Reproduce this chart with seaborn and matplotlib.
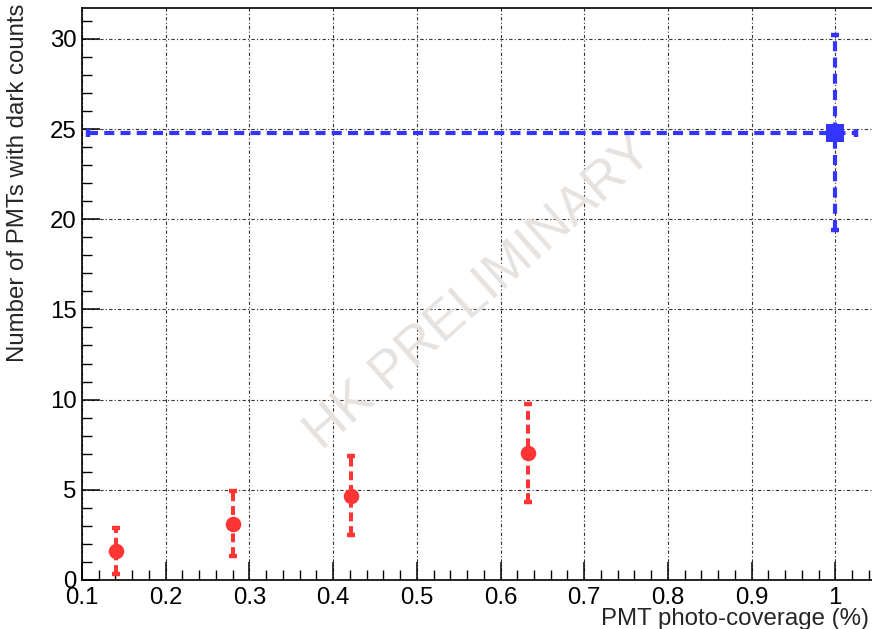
import matplotlib
matplotlib.use("Agg")
import matplotlib.pyplot as plt
from matplotlib.ticker import MultipleLocator, FixedLocator
import seaborn as sns
import pandas as pd

# Dark-count study: photo-coverage vs. number of PMTs with dark counts
coverage_red = [0.141, 0.281, 0.4216, 0.633]
counts_red = [1.61, 3.12, 4.67, 7.02]
err_red = [1.27, 1.81, 2.19, 2.72]

coverage_blue = [1.0]
counts_blue = [24.8]
err_blue_y = [5.4]
err_blue_x_lo = [0.893]
err_blue_x_hi = [0.025]

x_ticks = [0.1, 0.2, 0.3, 0.4, 0.5, 0.6, 0.7, 0.8, 0.9, 1.0]
x_tick_labels = ["0.1", "0.2", "0.3", "0.4", "0.5", "0.6", "0.7", "0.8", "0.9", "1"]
y_ticks = [0, 5, 10, 15, 20, 25, 30]

RED = "#ff3434"
BLUE = "#3434ff"
FS = 17.3

sns.set_theme(style="white")
plt.rcParams["font.family"] = ["Liberation Sans", "DejaVu Sans"]

W, H = 872, 629
fig = plt.figure(figsize=(W / 100, H / 100), dpi=100)
ax_l, ax_r, ax_b, ax_t = 82, 876, 580, 8
ax = fig.add_axes([ax_l / W, (H - ax_b) / H, (ax_r - ax_l) / W, (ax_b - ax_t) / H])

px_per_x = 837.0  # pixels per unit on x
x_max = 0.1 + (ax_r - ax_l) / px_per_x
y_max = (ax_b - ax_t) / 18.04
ax.set_xlim(0.1, x_max)
ax.set_ylim(0, y_max)

# grid
ax.set_axisbelow(True)
ax.grid(True, which="major", color="#333333", linestyle=(0, (3, 2, 1, 2)), linewidth=0.8)

# red series
df_red = pd.DataFrame({"coverage": coverage_red, "count": counts_red, "err": err_red})
eb = ax.errorbar(df_red["coverage"], df_red["count"], yerr=df_red["err"], fmt="none",
                 ecolor=RED, elinewidth=2.9, capsize=2.8, capthick=3.2, zorder=3)
for c in eb[2]:
    c.set_linestyle((0, (2.2, 1.2)))
sns.scatterplot(data=df_red, x="coverage", y="count", ax=ax, color=RED, marker="o",
                s=125, edgecolor=RED, linewidth=0, zorder=4, legend=False)

# blue series
df_blue = pd.DataFrame({"coverage": coverage_blue, "count": counts_blue})
eb2 = ax.errorbar(coverage_blue, counts_blue, yerr=err_blue_y,
                  xerr=[err_blue_x_lo, err_blue_x_hi], fmt="none",
                  ecolor=BLUE, elinewidth=3.0, capsize=2.8, capthick=3.2, zorder=3)
for c in eb2[2]:
    c.set_linestyle((0, (2.4, 1.5)))
sns.scatterplot(data=df_blue, x="coverage", y="count", ax=ax, color=BLUE, marker="s",
                s=170, edgecolor=BLUE, linewidth=0, zorder=4, legend=False)

# watermark
ax.text(0.574, 15.9, "HK PRELIMINARY", fontsize=38, color="#e6e2df", rotation=41.5,
        ha="center", va="center", rotation_mode="anchor", zorder=1)

# ticks, ROOT style (inside)
ax.xaxis.set_major_locator(FixedLocator(x_ticks))
ax.set_xticklabels(x_tick_labels)
ax.xaxis.set_minor_locator(MultipleLocator(0.02))
ax.yaxis.set_major_locator(FixedLocator(y_ticks))
ax.yaxis.set_minor_locator(MultipleLocator(1))
ax.tick_params(which="both", direction="in", color="black", labelsize=FS,
               top=False, right=False, bottom=True, left=True, labelcolor="black")
ax.tick_params(which="major", length=13, width=1.1)
ax.tick_params(which="minor", length=7, width=1.0)
ax.tick_params(axis="x", which="major", pad=5)
ax.tick_params(axis="y", which="major", pad=4)

for side in ["left", "bottom", "top"]:
    ax.spines[side].set_color("black")
    ax.spines[side].set_linewidth(1.2)
ax.spines["right"].set_visible(False)

ax.set_xlabel("PMT photo-coverage (%)", fontsize=FS, loc="right")
ax.set_ylabel("Number of PMTs with dark counts", fontsize=FS, loc="top")
aw, ah = ax_r - ax_l, ax_b - ax_t
ax.xaxis.set_label_coords((869 - ax_l) / aw, (ax_b - 619) / ah)
ax.xaxis.label.set_va("center")
ax.yaxis.set_label_coords((18 - ax_l) / aw, (ax_b - 4) / ah)
ax.yaxis.label.set_va("center")

fig.savefig("out.png", dpi=100, facecolor="white")
